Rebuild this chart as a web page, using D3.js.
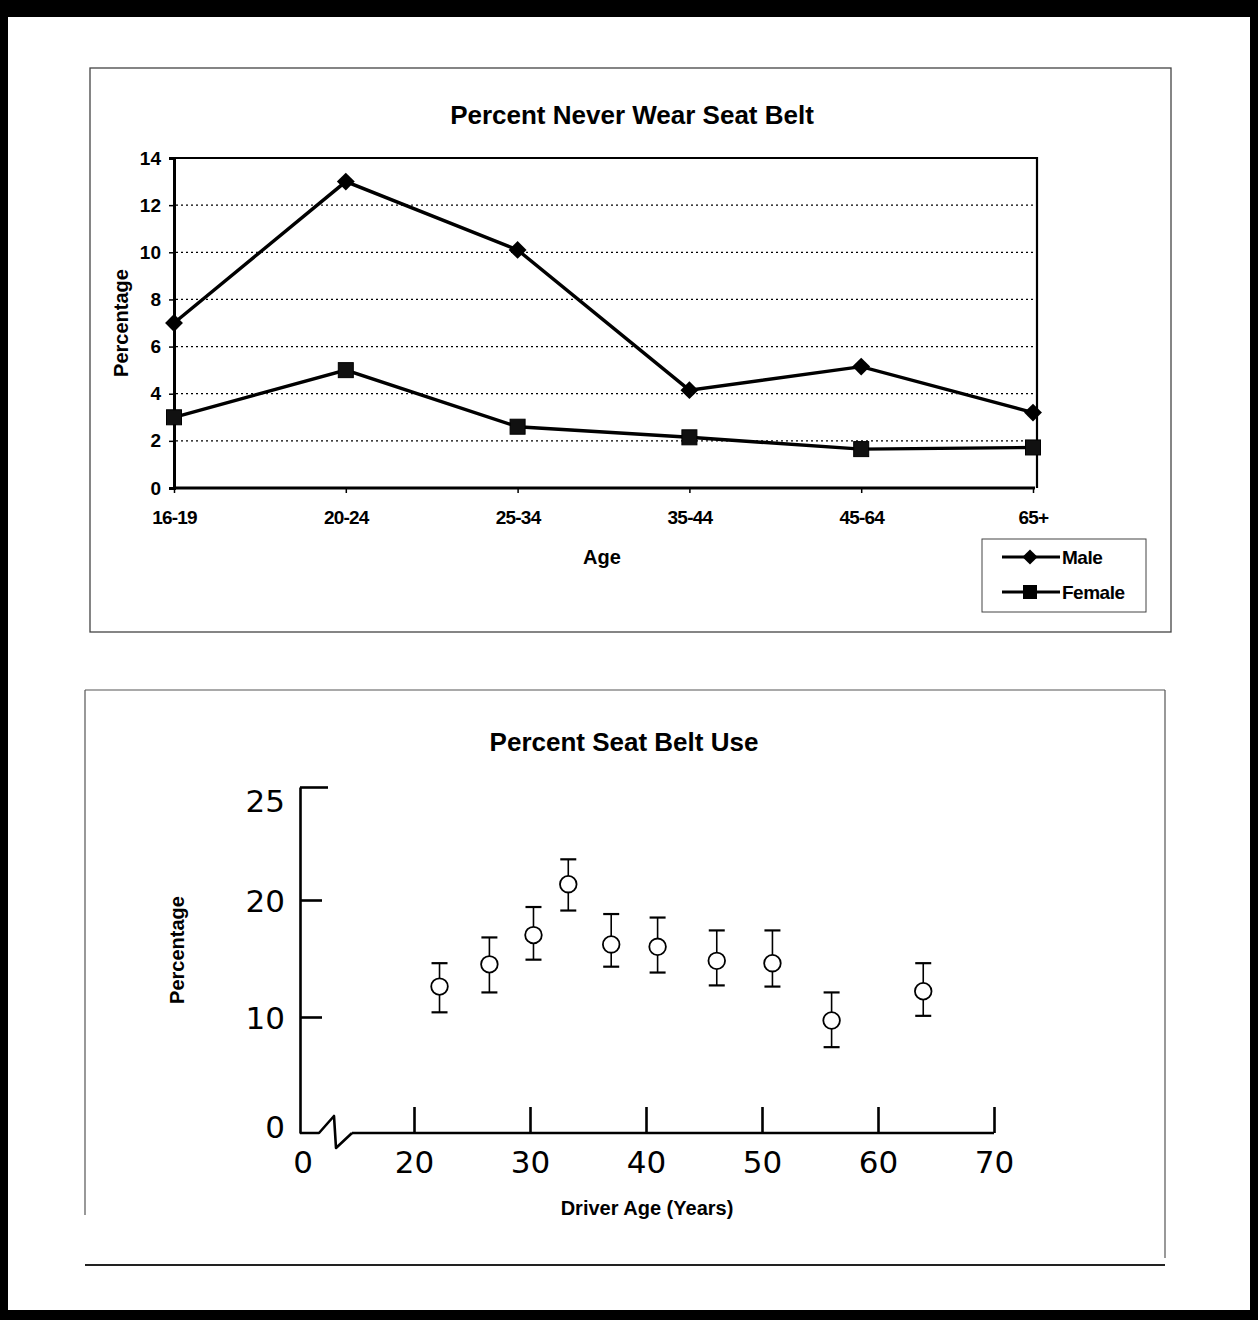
<!DOCTYPE html>
<html><head><meta charset="utf-8">
<script src="https://cdn.jsdelivr.net/npm/d3@7"></script>
<style>html,body{margin:0;padding:0;background:#fff}svg{display:block}</style>
</head><body>
<svg id="c" width="1258" height="1320"></svg>
<script>
// ---- Top chart data ----
const ageGroups = ["16-19","20-24","25-34","35-44","45-64","65+"];
const maleValues = [7, 13, 10.1, 4.15, 5.15, 3.2];
const femaleValues = [3, 5, 2.6, 2.15, 1.65, 1.72];
const topYTicks = [0,2,4,6,8,10,12,14];

// ---- Bottom chart data ----
const driverAges = [22.2, 26.5, 30.3, 33.3, 37.0, 41.0, 46.1, 50.9, 56.0, 63.9];
const beltUse    = [12.6, 14.5, 17.0, 20.7, 16.2, 16.0, 14.8, 14.6, 9.7, 12.2];
const beltUpper  = [14.6, 16.8, 19.4, 21.8, 18.8, 18.5, 17.4, 17.4, 12.1, 14.6];
const beltLower  = [10.4, 12.1, 14.9, 19.1, 14.3, 13.8, 12.7, 12.6, 7.4, 10.1];
const bottomYTicks = [0, 10, 20, 25];
const bottomXTicks = [20, 30, 40, 50, 60, 70];

const svg = d3.select("#c");
const F = "'Liberation Sans', Arial, sans-serif";

// outer black frame
svg.append("rect").attr("x",0).attr("y",0).attr("width",1258).attr("height",1320).attr("fill","#000");
svg.append("rect").attr("x",8).attr("y",17).attr("width",1242).attr("height",1293).attr("fill","#fff");

// panel boxes
svg.append("rect").attr("x",90).attr("y",68).attr("width",1081).attr("height",564)
  .attr("fill","none").attr("stroke","#444").attr("stroke-width",1.3);
svg.append("path").attr("d","M85,690 H1165 M85,690 V1215 M1165,690 V1258")
  .attr("fill","none").attr("stroke","#555").attr("stroke-width",1.2);
svg.append("path").attr("d","M85,1265 H1165").attr("fill","none").attr("stroke","#222").attr("stroke-width",2);

// ================= TOP CHART =================
const tx = d3.scalePoint().domain(ageGroups).range([174, 1033]);
const ty = d3.scaleLinear().domain([0,14]).range([488,158]);
const gTop = svg.append("g");

// gridlines
gTop.selectAll("line.grid").data(topYTicks.filter(d=>d>0 && d<14)).join("line")
  .attr("x1",176).attr("x2",1036).attr("y1",d=>ty(d)).attr("y2",d=>ty(d))
  .attr("stroke","#000").attr("stroke-width",1.2).attr("stroke-dasharray","2,3");
// frame
gTop.append("path").attr("d",`M174,158 H1037 V488`).attr("fill","none").attr("stroke","#000").attr("stroke-width",2.2);

// axes
const yAxT = gTop.append("g").attr("transform","translate(174,0)")
  .call(d3.axisLeft(ty).tickValues(topYTicks).tickSize(5).tickPadding(8));
yAxT.select(".domain").attr("stroke-width",3);
yAxT.selectAll("line").attr("stroke-width",1.5);
yAxT.selectAll("text").attr("font-family",F).attr("font-size",19).attr("font-weight","bold").attr("fill","#000");

const xAxT = gTop.append("g").attr("transform","translate(0,488)")
  .call(d3.axisBottom(tx).tickSize(5).tickPadding(18).tickSizeOuter(0));
xAxT.select(".domain").attr("stroke-width",3).attr("d","M174,0H1035");
xAxT.selectAll("line").attr("stroke-width",1.5);
xAxT.selectAll("text").attr("font-family",F).attr("font-size",19).attr("font-weight","bold").attr("fill","#000")
  .attr("letter-spacing","-0.8");

// lines
const lineT = d3.line().x((d,i)=>tx(ageGroups[i])).y(d=>ty(d));
gTop.append("path").datum(maleValues).attr("d",lineT).attr("fill","none").attr("stroke","#000").attr("stroke-width",3.4);
gTop.append("path").datum(femaleValues).attr("d",lineT).attr("fill","none").attr("stroke","#000").attr("stroke-width",3.4);
const diamond = d3.symbol().type(d3.symbolSquare).size(160);
gTop.selectAll("path.m").data(maleValues).join("path").attr("class","m")
  .attr("transform",(d,i)=>`translate(${tx(ageGroups[i])},${ty(d)}) rotate(45)`).attr("d",diamond).attr("fill","#000");
gTop.selectAll("rect.f").data(femaleValues).join("rect").attr("class","f")
  .attr("x",(d,i)=>tx(ageGroups[i])-7.5).attr("y",d=>ty(d)-7.5).attr("width",15).attr("height",15)
  .attr("fill","#111").attr("stroke","#000").attr("stroke-width",1);

// titles
gTop.append("text").attr("x",632).attr("y",124).attr("text-anchor","middle").attr("font-family",F)
  .attr("font-size",26).attr("font-weight","bold").text("Percent Never Wear Seat Belt");
gTop.append("text").attr("x",602).attr("y",564).attr("text-anchor","middle").attr("font-family",F)
  .attr("font-size",20).attr("font-weight","bold").text("Age");
gTop.append("text").attr("transform","translate(128,323) rotate(-90)").attr("text-anchor","middle").attr("font-family",F)
  .attr("font-size",20).attr("font-weight","bold").text("Percentage");

// legend
const lg = gTop.append("g");
lg.append("rect").attr("x",982).attr("y",539).attr("width",164).attr("height",73).attr("fill","#fff").attr("stroke","#444").attr("stroke-width",1);
const legItems = [{name:"Male", y:557, sym:"d"},{name:"Female", y:592, sym:"s"}];
legItems.forEach(it=>{
  lg.append("line").attr("x1",1002).attr("x2",1060).attr("y1",it.y).attr("y2",it.y).attr("stroke","#000").attr("stroke-width",3);
  if(it.sym==="d") lg.append("path").attr("transform",`translate(1030,${it.y}) rotate(45)`).attr("d",d3.symbol().type(d3.symbolSquare).size(115)).attr("fill","#000");
  else lg.append("rect").attr("x",1023).attr("y",it.y-7).attr("width",14).attr("height",14).attr("fill","#000");
  lg.append("text").attr("x",1062).attr("y",it.y+7).attr("font-family",F).attr("font-size",19).attr("font-weight","bold")
    .attr("letter-spacing","-0.5").text(it.name);
});

// ================= BOTTOM CHART =================
const gBot = svg.append("g");
const BF = "'DejaVu Sans', sans-serif";
const bx = d3.scaleLinear().domain([20,70]).range([414,994]);
const by = d3.scaleLinear().domain([0,10,20,25]).range([1133,1017,900,787]);

gBot.append("text").attr("x",624).attr("y",751).attr("text-anchor","middle").attr("font-family",F)
  .attr("font-size",26).attr("font-weight","bold").text("Percent Seat Belt Use");
gBot.append("text").attr("transform","translate(184,950) rotate(-90)").attr("text-anchor","middle").attr("font-family",F)
  .attr("font-size",20).attr("font-weight","bold").text("Percentage");
gBot.append("text").attr("x",647).attr("y",1215).attr("text-anchor","middle").attr("font-family",F)
  .attr("font-size",20).attr("font-weight","bold").text("Driver Age (Years)");

// y axis
const yAxB = gBot.append("g").attr("transform","translate(300,0)")
  .call(d3.axisRight(by).tickValues(bottomYTicks).tickSize(24).tickSizeOuter(0).tickFormat(d3.format("d")));
yAxB.select(".domain").attr("stroke-width",2.6);
yAxB.selectAll(".tick line").attr("stroke-width",2.6).attr("x2",d=>d===0?0:(d===25?28:22));
yAxB.selectAll(".tick text").attr("x",-15).attr("text-anchor","end").attr("font-family",BF)
  .attr("font-size",31).attr("fill","#000").attr("dy","0.36em")
  .attr("y",d=>d===25?13:(d===0?-7:0));

// x axis with break
const xAxB = gBot.append("g").attr("transform","translate(0,1133)")
  .call(d3.axisTop(bx).tickValues(bottomXTicks).tickSize(26).tickSizeOuter(0).tickFormat(d3.format("d")));
xAxB.select(".domain").attr("stroke-width",2.6).attr("d","M352,0H994");
xAxB.selectAll(".tick line").attr("stroke-width",2.6);
xAxB.selectAll(".tick text").attr("y",29).attr("dy","0.36em").attr("font-family",BF).attr("font-size",31).attr("fill","#000");
gBot.append("path").attr("d","M300,1133 H319 L334,1116 L336,1148 L352,1133")
  .attr("fill","none").attr("stroke","#000").attr("stroke-width",2.6).attr("stroke-linejoin","round");
gBot.append("text").attr("x",303).attr("y",1162).attr("dy","0.36em").attr("text-anchor","middle").attr("font-family",BF)
  .attr("font-size",31).text("0");

// error bars
const eb = gBot.selectAll("g.eb").data(driverAges).join("g").attr("class","eb");
eb.append("line").attr("x1",d=>bx(d)).attr("x2",d=>bx(d)).attr("y1",(d,i)=>by(beltUpper[i])).attr("y2",(d,i)=>by(beltLower[i]))
  .attr("stroke","#000").attr("stroke-width",1.6);
eb.append("line").attr("x1",d=>bx(d)-8).attr("x2",d=>bx(d)+8).attr("y1",(d,i)=>by(beltUpper[i])).attr("y2",(d,i)=>by(beltUpper[i]))
  .attr("stroke","#000").attr("stroke-width",2.2);
eb.append("line").attr("x1",d=>bx(d)-8).attr("x2",d=>bx(d)+8).attr("y1",(d,i)=>by(beltLower[i])).attr("y2",(d,i)=>by(beltLower[i]))
  .attr("stroke","#000").attr("stroke-width",2.2);
eb.append("circle").attr("cx",d=>bx(d)).attr("cy",(d,i)=>by(beltUse[i])).attr("r",8.3)
  .attr("fill","#fff").attr("stroke","#000").attr("stroke-width",1.8);
</script>
</body></html>
